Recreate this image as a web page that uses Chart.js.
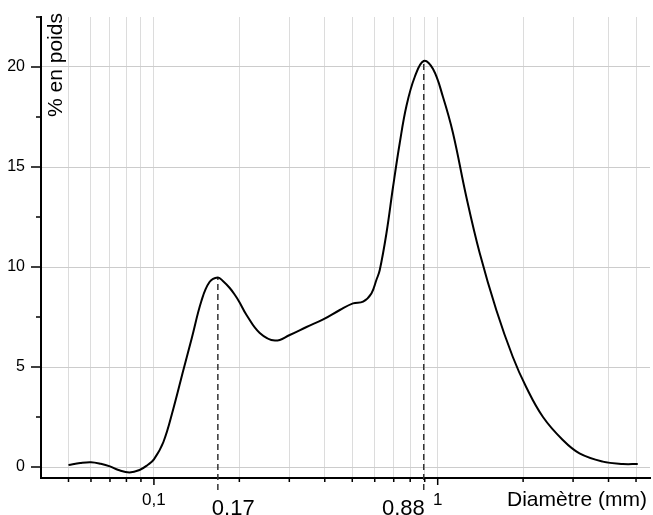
<!DOCTYPE html>
<html>
<head>
<meta charset="utf-8">
<script src="https://cdn.jsdelivr.net/npm/chart.js@4.4.1/dist/chart.umd.min.js"></script>
<style>
  body { margin: 0; background: #fff; }
  #wrap { width: 653px; height: 515px; }
</style>
</head>
<body>
<div id="wrap"><canvas id="grainChart" width="653" height="515"></canvas></div>
<script>
// courbe granulometrique : diametre (mm) / % en poids
const diametres = [0.05, 0.055, 0.06, 0.065, 0.07, 0.075, 0.082, 0.089, 0.095, 0.1,
  0.108, 0.117, 0.127, 0.136, 0.147, 0.157, 0.168, 0.175, 0.185, 0.193, 0.2, 0.212,
  0.236, 0.267, 0.301, 0.345, 0.395, 0.452, 0.503, 0.546, 0.584, 0.608,
  0.625, 0.66, 0.696, 0.735, 0.776, 0.83, 0.893, 0.963, 1.044, 1.132,
  1.262, 1.406, 1.609, 1.84, 2.05, 2.35, 2.76, 3.16, 3.82, 4.49, 5.07];
const poids = [0.1, 0.2, 0.24, 0.16, 0.03, -0.15, -0.27, -0.15, 0.1, 0.38,
  1.25, 2.9, 4.85, 6.45, 8.3, 9.25, 9.48, 9.3, 8.95, 8.6, 8.25, 7.6,
  6.7, 6.32, 6.6, 7.0, 7.38, 7.85, 8.18, 8.27, 8.68, 9.35,
  9.85, 11.7, 14.0, 16.2, 18.05, 19.5, 20.3, 19.9, 18.5, 16.7,
  13.5, 10.7, 7.85, 5.5, 4.0, 2.5, 1.35, 0.68, 0.27, 0.15, 0.15];

// les deux pics (traits pointilles)
const picsX = [0.168, 0.893];
const picsY = [9.48, 20.3];
const picsLabels = ['0.17', '0.88'];
const basPointille = -1.15;

// graduations
const xGrid = [0.05, 0.06, 0.07, 0.08, 0.09, 0.1, 0.2, 0.3, 0.4, 0.5, 0.6, 0.7, 0.8, 0.9, 1, 2, 3, 4, 5];
const xLabelValues = [0.1, 1];
const xLabelTexts = ['0,1', '1'];
const yTicks = [0, 5, 10, 15, 20];
const yMinor = [2.5, 7.5, 12.5, 17.5, 22.5];

const FONT = '"Liberation Sans", Arial, sans-serif';

const pointilles = picsX.map((px, i) => ({
  data: [{x: px, y: basPointille}, {x: px, y: picsY[i]}],
  borderColor: '#333',
  borderWidth: 1.5,
  borderDash: [6, 4],
  pointRadius: 0,
  tension: 0,
  clip: false
}));

const decor = {
  id: 'decor',
  afterDraw(chart) {
    const ctx = chart.ctx;
    const xs = chart.scales.x, ys = chart.scales.y;
    const area = chart.chartArea;
    ctx.save();
    // petites graduations
    ctx.strokeStyle = '#000';
    ctx.lineWidth = 1.5;
    ctx.beginPath();
    xGrid.forEach(v => {
      const px = xs.getPixelForValue(v);
      const decade = Math.abs(Math.log10(v) - Math.round(Math.log10(v))) < 1e-9;
      ctx.moveTo(px, area.bottom);
      ctx.lineTo(px, area.bottom + (decade ? 7 : 4));
    });
    yTicks.forEach(v => {
      const py = ys.getPixelForValue(v);
      ctx.moveTo(area.left, py);
      ctx.lineTo(area.left - 10, py);
    });
    yMinor.forEach(v => {
      const py = ys.getPixelForValue(v);
      ctx.moveTo(area.left, py);
      ctx.lineTo(area.left - 5, py);
    });
    ctx.stroke();

    ctx.fillStyle = '#000';
    // titre axe y, dans la zone du graphe
    ctx.font = '21px ' + FONT;
    ctx.save();
    ctx.translate(area.left + 21, area.top + 100);
    ctx.rotate(-Math.PI / 2);
    ctx.textAlign = 'left';
    ctx.textBaseline = 'alphabetic';
    ctx.fillText('% en poids', 0, 0);
    ctx.restore();

    // titre axe x
    ctx.textAlign = 'right';
    ctx.textBaseline = 'alphabetic';
    ctx.fillText('Diamètre (mm)', area.right - 3, area.bottom + 28);

    // valeurs des pics
    ctx.font = '22px ' + FONT;
    ctx.textAlign = 'left';
    ctx.fillText(picsLabels[0], xs.getPixelForValue(picsX[0]) - 6, area.bottom + 37);
    ctx.textAlign = 'right';
    ctx.fillText(picsLabels[1], xs.getPixelForValue(picsX[1]) + 1, area.bottom + 37);
    ctx.restore();
  }
};

new Chart(document.getElementById('grainChart'), {
  type: 'line',
  data: {
    datasets: [{
      data: diametres.map((d, i) => ({x: d, y: poids[i]})),
      borderColor: '#000',
      borderWidth: 2,
      pointRadius: 0,
      tension: 0.4,
      clip: false
    }].concat(pointilles)
  },
  options: {
    responsive: false,
    animation: false,
    layout: { padding: { top: 17, right: 3, left: 0, bottom: 0 } },
    plugins: { legend: { display: false }, tooltip: { enabled: false } },
    scales: {
      x: {
        type: 'logarithmic',
        min: 0.04,
        max: 5.6,
        afterBuildTicks: s => { s.ticks = xGrid.map(v => ({value: v})); },
        afterFit: s => { s.height = 37; s.paddingLeft = 0; s.paddingRight = 0; },
        grid: { color: '#dcdcdc', lineWidth: 1, drawTicks: false },
        border: { color: '#000', width: 2 },
        ticks: {
          autoSkip: false,
          maxRotation: 0,
          padding: 12,
          color: '#000',
          font: { family: FONT, size: 17 },
          callback: v => {
            const k = xLabelValues.findIndex(l => Math.abs(l - v) < 1e-9);
            return k >= 0 ? xLabelTexts[k] : '';
          }
        }
      },
      y: {
        min: -0.55,
        max: 22.5,
        afterBuildTicks: s => { s.ticks = yTicks.map(v => ({value: v})); },
        afterFit: s => { s.width = 41; s.paddingTop = 0; s.paddingBottom = 0; },
        grid: { color: '#cccccc', lineWidth: 1, drawTicks: false },
        border: { color: '#000', width: 2 },
        ticks: {
          padding: 16,
          color: '#000',
          font: { family: FONT, size: 16 }
        }
      }
    }
  },
  plugins: [decor]
});
</script>
</body>
</html>
